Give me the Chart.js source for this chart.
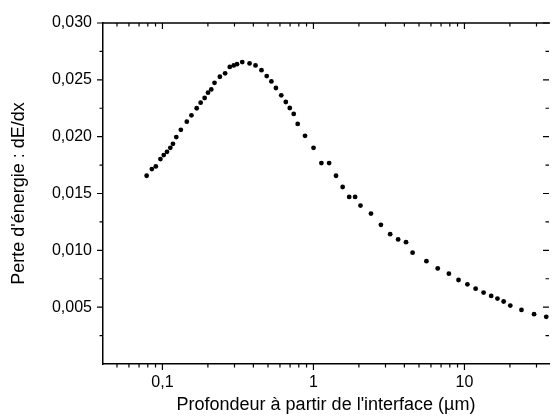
<!DOCTYPE html>
<html>
<head>
<meta charset="utf-8">
<script src="https://cdn.jsdelivr.net/npm/chart.js@4.4.1/dist/chart.umd.min.js"></script>
<style>
html,body{margin:0;padding:0;background:#fff;overflow:hidden;}
#wrap{width:553px;height:416px;}
</style>
</head>
<body>
<div id="wrap"><canvas id="c" width="553" height="416"></canvas></div>
<script>
// Depth (µm)
const depths = [0.0786, 0.0851, 0.0904, 0.0970, 0.1020, 0.1072, 0.1128, 0.1174, 0.1235, 0.1324,
  0.1450, 0.1556, 0.1686, 0.1791, 0.1903, 0.2003, 0.2105, 0.2212, 0.2401, 0.2601,
  0.2792, 0.2966, 0.3118, 0.3377, 0.3776, 0.4134, 0.4527, 0.4904, 0.5265, 0.5642,
  0.6122, 0.6562, 0.6970, 0.7403, 0.7866, 0.8796, 1.0015, 1.129, 1.270, 1.411,
  1.561, 1.725, 1.888, 2.049, 2.404, 2.797, 3.222, 3.637, 4.104, 4.535,
  5.600, 6.653, 7.888, 9.135, 10.46, 11.86, 13.39, 15.03, 16.54, 18.18,
  20.12, 23.86, 28.91, 34.81];
// Energy loss dE/dx
const energyLoss = [0.01656, 0.01715, 0.01738, 0.01803, 0.01838, 0.01867, 0.01902, 0.01937, 0.01996, 0.02060,
  0.02132, 0.02188, 0.02250, 0.02299, 0.02340, 0.02387, 0.02416, 0.02474, 0.02527, 0.02557,
  0.02614, 0.02627, 0.02638, 0.02656, 0.02644, 0.02627, 0.02585, 0.02533, 0.02486, 0.02428,
  0.02364, 0.02305, 0.02252, 0.02200, 0.02112, 0.02007, 0.01902, 0.01768, 0.01768, 0.01656,
  0.01557, 0.01470, 0.01470, 0.01394, 0.01323, 0.01224, 0.01142, 0.01096, 0.01072, 0.00979,
  0.00905, 0.00841, 0.00795, 0.00739, 0.00701, 0.00663, 0.00628, 0.00599, 0.00576, 0.00550,
  0.00514, 0.00476, 0.00438, 0.00415];

const xMajorTicks = [0.1, 1, 10];
const xTickLabels = ["0,1", "1", "10"];
const xMinorTicks = [0.05, 0.06, 0.07, 0.08, 0.09, 0.2, 0.3, 0.4, 0.5, 0.6, 0.7, 0.8, 0.9,
  2, 3, 4, 5, 6, 7, 8, 9, 20, 30];
const yMajorTicks = [0.005, 0.010, 0.015, 0.020, 0.025, 0.030];
const yTickLabels = ["0,005", "0,010", "0,015", "0,020", "0,025", "0,030"];
const yMinorTicks = [0.0025, 0.0075, 0.0125, 0.0175, 0.0225, 0.0275];

const xTitle = "Profondeur à partir de l'interface (µm)";
const yTitle = "Perte d'énergie : dE/dx";

Chart.defaults.font.family = "'Liberation Sans', Arial, sans-serif";
Chart.defaults.color = '#000';

const frameTicks = {
  id: 'frameTicks',
  afterDraw(chart) {
    const {ctx, chartArea: a, scales: {x, y}} = chart;
    const maj = 6, min = 3.5;
    ctx.save();
    ctx.strokeStyle = '#000';
    ctx.lineWidth = 1.5;
    // top frame line
    ctx.beginPath();
    ctx.moveTo(a.left, a.top); ctx.lineTo(a.right + 1, a.top);
    ctx.stroke();
    ctx.lineWidth = 1.2;
    ctx.beginPath();
    const xt = (v, len) => {
      const px = x.getPixelForValue(v);
      ctx.moveTo(px, a.bottom); ctx.lineTo(px, a.bottom + len);
      ctx.moveTo(px, a.top); ctx.lineTo(px, a.top + len);
    };
    const yt = (v, len) => {
      const py = y.getPixelForValue(v);
      ctx.moveTo(a.left - len, py); ctx.lineTo(a.left, py);
      ctx.moveTo(a.right - len, py); ctx.lineTo(a.right, py);
    };
    xMajorTicks.forEach(v => xt(v, maj));
    xMinorTicks.forEach(v => xt(v, min));
    yMajorTicks.forEach(v => yt(v, maj));
    yMinorTicks.forEach(v => yt(v, min));
    ctx.stroke();
    ctx.restore();
  }
};

new Chart(document.getElementById('c'), {
  type: 'scatter',
  data: {
    datasets: [{
      data: depths.map((d, i) => ({x: d, y: energyLoss[i]})),
      backgroundColor: '#000',
      borderWidth: 0,
      pointRadius: 2.4,
      showLine: false
    }]
  },
  options: {
    responsive: false,
    animation: false,
    events: [],
    layout: {padding: {top: 23, right: 0, bottom: 0, left: 0}},
    plugins: {legend: {display: false}, tooltip: {enabled: false}},
    scales: {
      x: {
        type: 'logarithmic',
        min: 0.0404,
        max: 36.3,
        afterBuildTicks: s => { s.ticks = xMajorTicks.map(v => ({value: v})); },
        afterFit: s => { s.height = 52; },
        grid: {display: false, drawTicks: false},
        border: {display: true, color: '#000', width: 1.5},
        ticks: {
          autoSkip: false, maxRotation: 0, padding: 9,
          font: {size: 16},
          callback: (v, i) => xTickLabels[i]
        },
        title: {display: true, text: xTitle, font: {size: 18}, padding: {top: 0, bottom: 0}}
      },
      y: {
        type: 'linear',
        min: 0,
        max: 0.030,
        afterBuildTicks: s => { s.ticks = yMajorTicks.map(v => ({value: v})); },
        afterFit: s => { s.width = 103; },
        grid: {display: false, drawTicks: false},
        border: {display: true, color: '#000', width: 1.5},
        ticks: {
          autoSkip: false, padding: 11,
          font: {size: 16},
          callback: (v, i) => yTickLabels[i]
        },
        title: {display: true, text: yTitle, font: {size: 18}, padding: {top: 8, bottom: 0}}
      }
    }
  },
  plugins: [frameTicks]
});
</script>
</body>
</html>
